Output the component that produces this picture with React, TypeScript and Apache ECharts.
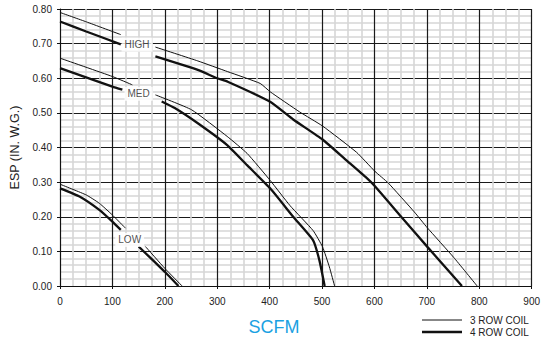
import React, { useEffect, useRef } from "react";
import * as echarts from "echarts";

type Pt = [number, number | string];

// 3 ROW COIL (thin) and 4 ROW COIL (thick) fan curves; '-' marks the gap behind a label
const highThreeRow: Pt[] = [[0, 0.79], [50, 0.763], [116, 0.726], [141, "-"], [182, 0.69], [263, 0.65], [320, 0.619], [382, 0.585], [401, 0.561], [457, 0.503], [501, 0.462], [566, 0.386], [601, 0.331], [626, 0.298], [676, 0.214], [701, 0.168], [751, 0.083], [796, 0]];
const highFourRow: Pt[] = [[0, 0.764], [50, 0.735], [116, 0.698], [141, "-"], [182, 0.663], [263, 0.624], [300, 0.6], [320, 0.59], [401, 0.532], [445, 0.481], [501, 0.423], [545, 0.365], [583, 0.315], [601, 0.288], [651, 0.2], [701, 0.113], [767, 0]];
const medThreeRow: Pt[] = [[0, 0.658], [100, 0.605], [138, 0.581], [160, "-"], [182, 0.552], [251, 0.509], [319, 0.432], [357, 0.383], [401, 0.305], [439, 0.232], [483, 0.16], [501, 0.113], [514, 0.055], [524, 0]];
const medFourRow: Pt[] = [[0, 0.629], [100, 0.576], [119, 0.567], [156, "-"], [194, 0.533], [219, 0.514], [263, 0.47], [319, 0.407], [357, 0.349], [401, 0.282], [445, 0.2], [483, 0.132], [495, 0.074], [505, 0]];
const lowThreeRow: Pt[] = [[0, 0.294], [50, 0.263], [75, 0.239], [100, 0.205], [125, 0.167], [144, "-"], [163, 0.114], [200, 0.051], [233, 0]];
const lowFourRow: Pt[] = [[0, 0.282], [38, 0.258], [75, 0.22], [100, 0.186], [116, 0.162], [133, "-"], [150, 0.114], [200, 0.041], [226, 0]];

const curveNames = ["HIGH", "MED", "LOW"];
const curveLabelPos: [number, number][] = [[147, 0.697], [150, 0.555], [133, 0.133]];

const legendNames = ["3 ROW COIL", "4 ROW COIL"];
const xAxisTitle = "SCFM";
const yAxisTitle = "ESP (IN. W.G.)";

const FONT = "'Liberation Sans', Arial, sans-serif";
const THIN = 1;
const THICK = 2.3;

export default function App() {
  const ref = useRef<HTMLDivElement>(null);
  useEffect(() => {
    if (!ref.current) return;
    const chart = echarts.init(ref.current, undefined, { renderer: "svg" });
    const lineSeries = (data: Pt[], w: number) => ({
      type: "line",
      data,
      showSymbol: false,
      symbol: "none",
      connectNulls: false,
      smooth: 0.15,
      lineStyle: { color: "#111", width: w },
      z: 5,
      silent: true,
    });
    chart.setOption({
      animation: false,
      textStyle: { fontFamily: FONT },
      grid: { left: 60, right: 4, top: 9, bottom: 60, containLabel: false },
      xAxis: {
        type: "value",
        min: 0,
        max: 900,
        interval: 100,
        axisLine: { show: true, lineStyle: { color: "#111", width: 1 } },
        axisTick: { show: true, length: 3, lineStyle: { color: "#111" } },
        axisLabel: { color: "#222", fontSize: 10, margin: 10, fontFamily: FONT },
        splitLine: { show: true, lineStyle: { color: "#1a1a1a", width: 1.2 } },
        minorTick: { show: false, splitNumber: 4 },
        minorSplitLine: { show: true, lineStyle: { color: "#d6d6d6", width: 1.6 } },
      },
      yAxis: {
        type: "value",
        min: 0,
        max: 0.8,
        interval: 0.1,
        name: yAxisTitle,
        nameLocation: "middle",
        nameGap: 37,
        nameRotate: 90,
        nameTextStyle: { color: "#222", fontSize: 12.5, fontFamily: FONT },
        axisLine: { show: true, lineStyle: { color: "#111", width: 1 } },
        axisTick: { show: true, length: 3, lineStyle: { color: "#111" } },
        axisLabel: {
          color: "#222",
          fontSize: 10,
          margin: 8,
          fontFamily: FONT,
          formatter: (v: number) => v.toFixed(2),
        },
        splitLine: { show: true, lineStyle: { color: "#1a1a1a", width: 1.2 } },
        minorTick: { show: false, splitNumber: 5 },
        minorSplitLine: { show: true, lineStyle: { color: "#d6d6d6", width: 1.6 } },
      },
      series: [
        lineSeries(highThreeRow, THIN),
        lineSeries(highFourRow, THICK),
        lineSeries(medThreeRow, THIN),
        lineSeries(medFourRow, THICK),
        lineSeries(lowThreeRow, THIN),
        lineSeries(lowFourRow, THICK),
        {
          type: "scatter",
          symbolSize: 0,
          silent: true,
          z: 6,
          data: curveNames.map((n, i) => ({ name: n, value: curveLabelPos[i] })),
          label: {
            show: true,
            position: "inside",
            formatter: "{b}",
            color: "#222",
            fontSize: 10,
            fontFamily: FONT,
            backgroundColor: "#fff",
            padding: [2, 3],
          },
        },
      ],
      graphic: [
        {
          type: "text",
          x: 274,
          y: 327,
          style: {
            text: xAxisTitle,
            fill: "#1ba1e2",
            font: `18px ${FONT}`,
            align: "center",
            verticalAlign: "middle",
          },
        },
        { type: "line", shape: { x1: 422, y1: 320, x2: 462, y2: 320 }, style: { stroke: "#111", lineWidth: THIN } },
        { type: "line", shape: { x1: 422, y1: 332, x2: 462, y2: 332 }, style: { stroke: "#111", lineWidth: THICK } },
        {
          type: "text",
          x: 470,
          y: 320,
          style: { text: legendNames[0], fill: "#222", font: `10px ${FONT}`, verticalAlign: "middle" },
        },
        {
          type: "text",
          x: 470,
          y: 332,
          style: { text: legendNames[1], fill: "#222", font: `10px ${FONT}`, verticalAlign: "middle" },
        },
      ],
    });
    return () => chart.dispose();
  }, []);
  return (
    <div
      ref={ref}
      style={{ position: "fixed", left: 0, top: 0, width: 543, height: 346, background: "#fff" }}
    />
  );
}
